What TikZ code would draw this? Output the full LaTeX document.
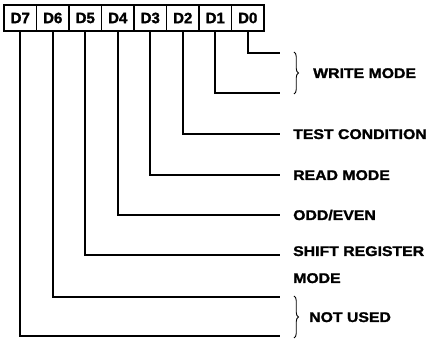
\documentclass[tikz,border=0pt]{standalone}
\usepackage{fontspec}
\setmainfont{Liberation Sans}
\newfontfamily\lblfont[FakeStretch=1.13,FakeBold=1.6]{Liberation Sans}
\newfontfamily\bitfont[FakeBold=1.6]{Liberation Sans}
\usetikzlibrary{decorations.pathreplacing}
\tikzset{
  bitbox/.style={draw, line width=1.6pt, minimum width=32.5pt, minimum height=26pt, inner sep=0pt, font=\bitfont\bfseries\fontsize{15}{15}\selectfont},
  wire/.style={line width=1.8pt},
  lbl/.style={anchor=base west, inner sep=0pt, font=\lblfont\bfseries\fontsize{14}{14}\selectfont, align=left},
  brc/.style={decorate, decoration={brace, amplitude=4.5pt}, line width=0.9pt}
}
\begin{document}
\begin{tikzpicture}[x=1pt,y=-1pt]
\useasboundingbox (0,0) rectangle (432,339);
\foreach \i in {0,...,7}{
  \node[bitbox] (d\i) at ({20.25+32.5*(7-\i)},18) {D\i};
}
\coordinate (e0) at (280,53);
\coordinate (e1) at (280,93);
\coordinate (e2) at (280,134);
\coordinate (e3) at (280,175);
\coordinate (e4) at (280,215);
\coordinate (e5) at (280,255);
\coordinate (e6) at (280,297);
\coordinate (e7) at (280,336);
\foreach \i in {0,...,7}{
  \draw[wire] (d\i.south) |- (e\i);
}
\draw[brc] (294,52) -- (294,94);
\draw[brc] (294,296) -- (294,338);
\node[lbl] (lw) at (313,78) {WRITE MODE};
\node[lbl] (l2) at (293,139) {TEST CONDITION};
\node[lbl] (l3) at (293,180) {READ MODE};
\node[lbl] (l4) at (293,220) {ODD/EVEN};
\node[lbl] (l5) at (293,256) {SHIFT REGISTER};
\node[lbl] (l5b) at (293,283) {MODE};
\node[lbl] (ln) at (309,322) {NOT USED};
\end{tikzpicture}
\end{document}
